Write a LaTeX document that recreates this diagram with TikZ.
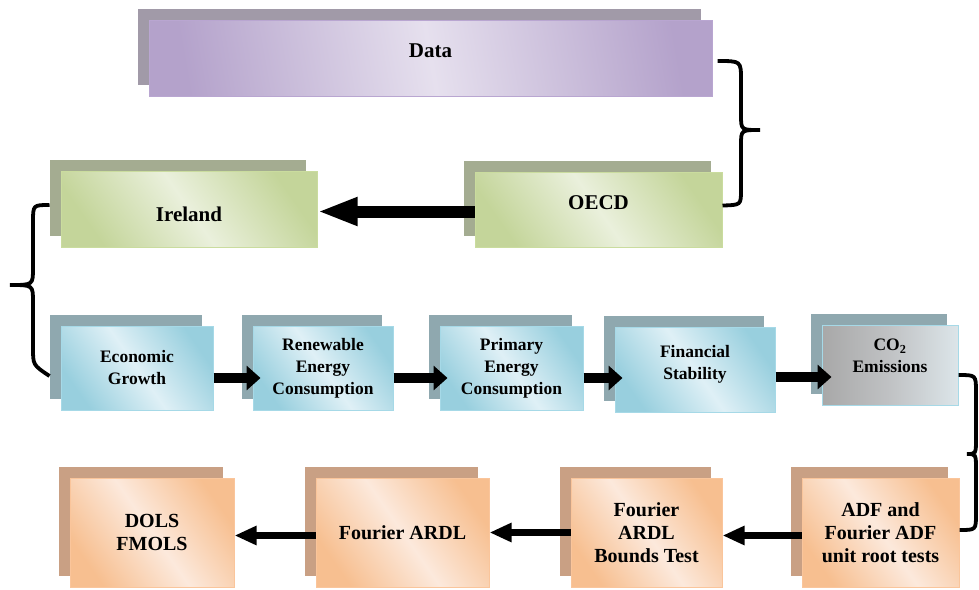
\documentclass[tikz,border=0pt]{standalone}
\usepackage{fontspec}
\setmainfont{Liberation Serif}
\usetikzlibrary{arrows.meta,shadows}
\definecolor{purdark}{HTML}{B4A2CB}
\definecolor{purlight}{HTML}{E6E0EE}
\definecolor{purborder}{HTML}{B9A6D1}
\definecolor{purshadow}{HTML}{A19AA8}
\definecolor{grndark}{HTML}{C4D59A}
\definecolor{grnlight}{HTML}{EAF0DC}
\definecolor{grnborder}{HTML}{CADC9E}
\definecolor{grnshadow}{HTML}{A4AC91}
\definecolor{bludark}{HTML}{98CFDE}
\definecolor{blulight}{HTML}{DFF0F6}
\definecolor{bluborder}{HTML}{A6D9E7}
\definecolor{blushadow}{HTML}{8FA8AF}
\definecolor{gredark}{HTML}{A8A8A8}
\definecolor{gremid}{HTML}{C0C2C4}
\definecolor{grelight}{HTML}{DCE5E9}
\definecolor{greborder}{HTML}{A6D9E7}
\definecolor{greshadow}{HTML}{8FA8AF}
\definecolor{orgdark}{HTML}{F7BF90}
\definecolor{orglight}{HTML}{FCE9DC}
\definecolor{orgborder}{HTML}{FAC59B}
\definecolor{orgshadow}{HTML}{C9A084}

\begin{document}
\begin{tikzpicture} [x = 1pt, y = -1pt,
  box/.style = {draw=#1border, line width=1pt, left color=#1dark, right color=#1dark,
    middle color=#1light, shading angle=125, align=center, inner sep=0pt,
    general shadow={fill=#1shadow, shadow xshift=-11pt, shadow yshift=11pt}},
  bigtext/.style = {font=\bfseries\fontsize{21}{25}\selectfont},
  midtext/.style = {font=\bfseries\fontsize{17.5}{22}\selectfont},
  lowtext/.style = {font=\bfseries\fontsize{20}{23}\selectfont},
  fatarrow/.style = {line width=12pt, -{Triangle[length=40pt, width=26pt]}},
  midarrow/.style = {line width=10pt, -{Triangle[length=14pt, width=24pt]}},
  thinarrow/.style = {line width=7pt, -{Triangle[length=22pt, width=18pt]}},
  brace/.style = {line width=3.8pt, black}]
\useasboundingbox (0, 0) rectangle (979, 589);
\node[box=pur, bigtext, shading angle=100, text depth=14pt, minimum width=563pt, minimum height=76pt] (data) at (430.5, 58) {Data};
\node[box=grn, bigtext, text height=24pt, text depth=0pt, minimum width=256pt, minimum height=76pt] (ireland) at (189, 209) {Ireland};
\node[box=grn, bigtext, text depth=14pt, minimum width=247pt, minimum height=75pt] (oecd) at (598.5, 209.5) {OECD};
\node[box=blu, midtext, minimum width=152pt, minimum height=84pt] (growth) at (137, 368) {Economic\\Growth};
\node[box=blu, midtext, minimum width=140pt, minimum height=84pt] (renew) at (323, 368) {Renewable\\Energy\\Consumption};
\node[box=blu, midtext, minimum width=143pt, minimum height=84pt] (primary) at (511.5, 368) {Primary\\Energy\\Consumption};
\node[box=blu, midtext, text depth=14pt, minimum width=160pt, minimum height=85pt] (finance) at (695, 369.5) {Financial\\Stability};
\node[box=gre, midtext, right color=grelight, middle color=gremid, text depth=18pt, minimum width=136pt, minimum height=80pt] (co2) at (890, 365) {CO\textsubscript{2}\\Emissions};
\node[box=org, lowtext, minimum width=157pt, minimum height=109pt] (adf) at (880.5, 532.5) {ADF and\\Fourier ADF\\unit root tests};
\node[box=org, lowtext, minimum width=151pt, minimum height=109pt] (bounds) at (646.5, 532.5) {Fourier\\ARDL\\Bounds Test};
\node[box=org, lowtext, minimum width=173pt, minimum height=109pt] (ardl) at (402.5, 532.5) {Fourier ARDL};
\node[box=org, lowtext, minimum width=164pt, minimum height=109pt] (dols) at (152, 532.5) {DOLS\\FMOLS};
\draw[fatarrow] ([yshift=-2pt]oecd.west) -- ([yshift=-2.5pt]ireland.east);
\draw[midarrow] ([yshift=-10pt]growth.east) -- ([xshift=8pt, yshift=-10pt]renew.west);
\draw[midarrow] ([yshift=-10pt]renew.east) -- ([xshift=8pt, yshift=-10pt]primary.west);
\draw[midarrow] ([yshift=-10pt]primary.east) -- ([xshift=8pt, yshift=-8.5pt]finance.west);
\draw[midarrow] ([yshift=-7.5pt]finance.east) -- ([xshift=10pt, yshift=-12pt]co2.west);
\draw[thinarrow] ([yshift=-3pt]adf.west) -- ([yshift=-3pt]bounds.east);
\draw[thinarrow] ([yshift=0pt]bounds.west) -- ([yshift=0pt]ardl.east);
\draw[thinarrow] ([yshift=-3pt]ardl.west) -- ([yshift=-3pt]dols.east);
\draw[brace] ([xshift=5pt, yshift=-3pt]data.east) .. controls (741, 61) .. (741, 80) -- (741, 115)
  .. controls (741, 130) .. (760, 130) .. controls (741, 130) .. (741, 145) -- (741, 190)
  .. controls (741, 205) .. ([yshift=4pt]oecd.east);
\draw[brace] ([xshift=-11pt, yshift=4pt]ireland.west) .. controls (33, 205) .. (33, 222) -- (33, 268)
  .. controls (33, 285) .. (10, 285) .. controls (33, 285) .. (33, 302) -- (33, 348)
  .. controls (33, 365) .. ([xshift=-11pt, yshift=-8pt]growth.west);
\draw[brace] ([yshift=-10pt]co2.east) .. controls (976, 375) .. (976, 392) -- (976, 438)
  .. controls (976, 454) .. (967, 454) .. controls (976, 454) .. (976, 470) -- (976, 514)
  .. controls (976, 530) .. ([yshift=2.5pt]adf.east);
\end{tikzpicture}
\end{document}
